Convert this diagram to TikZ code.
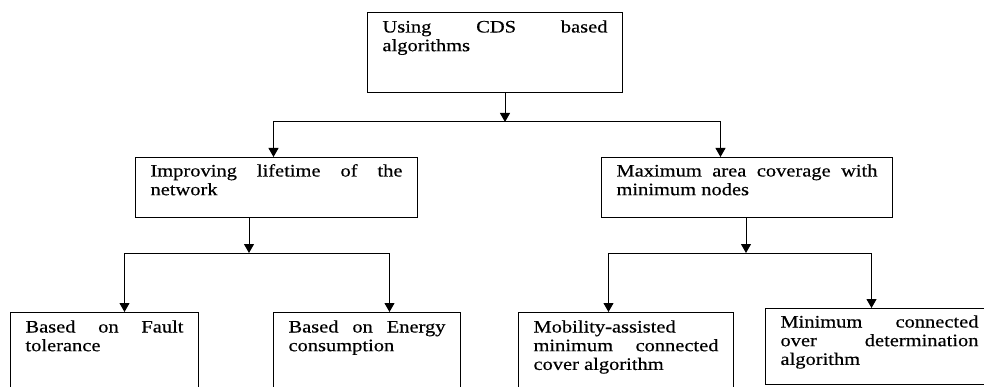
\documentclass[tikz,border=0pt]{standalone}
\usepackage{fontspec}
\setmainfont{Liberation Serif}[FakeStretch=1.17,FakeBold=0.4]
\usepackage{tikz}
\usetikzlibrary{calc}
\usetikzlibrary{arrows.meta}
\tikzset{>={Triangle[length=9pt,width=10pt]}}
\tikzset{blk/.style={draw,rectangle,anchor=north west,align=justify,
    line width=1pt,inner xsep=15pt,inner ysep=0pt,text height=20pt,
    font=\fontsize{17.5}{18.7}\selectfont}}

\begin{document}
\begin{tikzpicture}[x=1pt,y=-1pt,line width=1pt]
      \useasboundingbox (0,0) rectangle (984,387);
      \clip (0,0) rectangle (984,387);

      \coordinate (j1) at (505,122);
      \coordinate (j2) at (249,253);
      \coordinate (j3) at (746,253);

      \node [blk,text width=225pt,text depth=60pt] (cds) at (367,12)
      {Using CDS based\linebreak algorithms};

      \node [blk,text width=252pt,text height=19pt,text depth=41pt] (life) at (135,157)
      {Improving lifetime of the\linebreak network};

      \node [blk,text width=261pt,text height=19pt,text depth=41pt] (cov) at (601,157)
      {Maximum area coverage with\linebreak minimum nodes};

      \node [blk,text width=158pt,text depth=70pt] (fault) at (10,312)
      {Based on Fault\linebreak tolerance};

      \node [blk,text width=157pt,text depth=70pt] (energy) at (273,312)
      {Based on Energy\linebreak consumption};

      \node [blk,text width=185pt,text depth=70pt] (mob) at (518,312)
      {Mobility-assisted\linebreak minimum connected\linebreak cover algorithm};

      \node [blk,text width=198pt,text height=19pt,text depth=57pt] (over) at (765,308)
      {Minimum connected\linebreak over determination\linebreak algorithm};

      \draw [->] (cds.south -| j1) -- (j1);
      \draw [->] (j1) -| ([xshift=-3pt]life.north);
      \draw [->] (j1) -| ([xshift=-26.5pt]cov.north);

      \draw [->] (life.south -| j2) -- (j2);
      \draw [->] (j2) -| ([xshift=20pt]fault.north);
      \draw [->] (j2) -| ([xshift=22.5pt]energy.north);

      \draw [->] (cov.south -| j3) -- (j3);
      \draw [->] (j3) -| ([xshift=-17.5pt]mob.north);
      \draw [->] (j3) -| ([xshift=-8pt]over.north);
  \end{tikzpicture}
\end{document}
